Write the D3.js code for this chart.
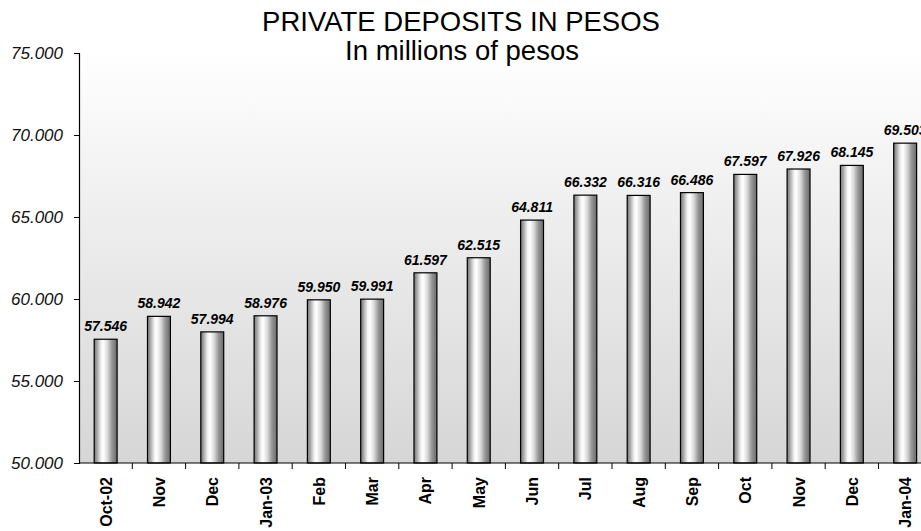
<!DOCTYPE html>
<html>
<head>
<meta charset="utf-8">
<script src="https://cdn.jsdelivr.net/npm/d3@7"></script>
<style>
  html, body { margin: 0; padding: 0; background: #ffffff; }
  svg { display: block; font-family: "Liberation Sans", Arial, sans-serif; }
</style>
</head>
<body>
<svg id="chart" width="921" height="531"></svg>
<script>
// Monthly private peso deposits, millions of pesos
const categories = ["Oct-02", "Nov", "Dec", "Jan-03", "Feb", "Mar", "Apr", "May",
                    "Jun", "Jul", "Aug", "Sep", "Oct", "Nov ", "Dec ", "Jan-04"];
const deposits = [57546, 58942, 57994, 58976, 59950, 59991, 61597, 62515,
                  64811, 66332, 66316, 66486, 67597, 67926, 68145, 69503];
const yTicks = [50000, 55000, 60000, 65000, 70000, 75000];
const titleLines = ["PRIVATE DEPOSITS IN PESOS", "In millions of pesos"];

const svg = d3.select("#chart");
const plot = { left: 79, top: 53, bottom: 463, right: 79 + 16 * 53.3 };

// Numbers use "." as the thousands separator
const locale = d3.formatLocale({ decimal: ",", thousands: ".", grouping: [3], currency: ["$", ""] });
const fmt = locale.format(",.0f");
const fmtTick = v => fmt(v / 1000) + ".000";

const x = d3.scaleBand()
  .domain(categories)
  .range([plot.left, plot.right])
  .paddingInner(0.57)
  .paddingOuter(0.285);

const y = d3.scaleLinear()
  .domain([50000, 75000])
  .range([plot.bottom, plot.top]);

const defs = svg.append("defs");

// Plot background: white fading into light grey toward the base
const bg = defs.append("linearGradient")
  .attr("id", "plotBg").attr("x1", 0).attr("y1", 0).attr("x2", 0).attr("y2", 1);
bg.append("stop").attr("offset", "0%").attr("stop-color", "#ffffff");
bg.append("stop").attr("offset", "30%").attr("stop-color", "#f2f2f2");
bg.append("stop").attr("offset", "100%").attr("stop-color", "#d6d6d6");

// Cylinder shading for the bars
const barGrad = defs.append("linearGradient")
  .attr("id", "barGrad").attr("x1", 0).attr("y1", 0).attr("x2", 1).attr("y2", 0);
[["0%", "#737373"], ["12%", "#a4a4a4"], ["30%", "#f2f2f2"], ["40%", "#ffffff"],
 ["58%", "#dadada"], ["78%", "#959595"], ["100%", "#696969"]]
  .forEach(([o, c]) => barGrad.append("stop").attr("offset", o).attr("stop-color", c));

svg.append("rect")
  .attr("x", plot.left).attr("y", plot.top)
  .attr("width", plot.right - plot.left).attr("height", plot.bottom - plot.top)
  .attr("fill", "url(#plotBg)");

// Bars
svg.append("g").selectAll("rect")
  .data(deposits)
  .join("rect")
  .attr("x", (d, i) => x(categories[i]))
  .attr("y", d => y(d))
  .attr("width", x.bandwidth())
  .attr("height", d => y(50000) - y(d))
  .attr("fill", "url(#barGrad)")
  .attr("stroke", "#000")
  .attr("stroke-width", 1.2);

// Value labels
svg.append("g").selectAll("text")
  .data(deposits)
  .join("text")
  .attr("x", (d, i) => x(categories[i]) + x.bandwidth() / 2)
  .attr("y", d => y(d) - 8)
  .attr("text-anchor", "middle")
  .attr("font-size", 14)
  .attr("font-weight", "bold")
  .attr("font-style", "italic")
  .attr("fill", "#000")
  .text(d => fmt(d));

// Y axis
const yAxis = svg.append("g")
  .attr("transform", `translate(${plot.left},0)`)
  .call(d3.axisLeft(y).tickValues(yTicks).tickFormat(fmtTick).tickSize(5).tickPadding(11));
yAxis.select(".domain").attr("stroke", "#000").attr("stroke-width", 1.2);
yAxis.selectAll(".tick line").attr("stroke", "#000");
yAxis.selectAll(".tick text")
  .attr("font-size", 17).attr("font-style", "italic")
  .attr("font-family", "Liberation Sans, Arial, sans-serif").attr("fill", "#111");

// X axis: ticks sit between categories
const xAxisG = svg.append("g").attr("transform", `translate(0,${plot.bottom})`);
xAxisG.append("line")
  .attr("x1", plot.left).attr("x2", plot.right)
  .attr("stroke", "#000").attr("stroke-width", 1.2);
const step = x.step();
xAxisG.selectAll("line.sep")
  .data(d3.range(1, categories.length + 1))
  .join("line").attr("class", "sep")
  .attr("x1", i => plot.left + i * step).attr("x2", i => plot.left + i * step)
  .attr("y1", 0).attr("y2", 6)
  .attr("stroke", "#000");
xAxisG.selectAll("text")
  .data(categories)
  .join("text")
  .attr("transform", d => `translate(${x(d) + x.bandwidth() / 2 + 6},14) rotate(-90)`)
  .attr("text-anchor", "end")
  .attr("font-size", 16)
  .attr("font-weight", "bold")
  .attr("fill", "#000")
  .text(d => d.trim());

// Titles
svg.append("text")
  .attr("x", 461).attr("y", 31)
  .attr("text-anchor", "middle").attr("font-size", 27.5).attr("fill", "#000")
  .text(titleLines[0]);
svg.append("text")
  .attr("x", 462).attr("y", 60)
  .attr("text-anchor", "middle").attr("font-size", 27.5).attr("fill", "#000")
  .text(titleLines[1]);
</script>
</body>
</html>
